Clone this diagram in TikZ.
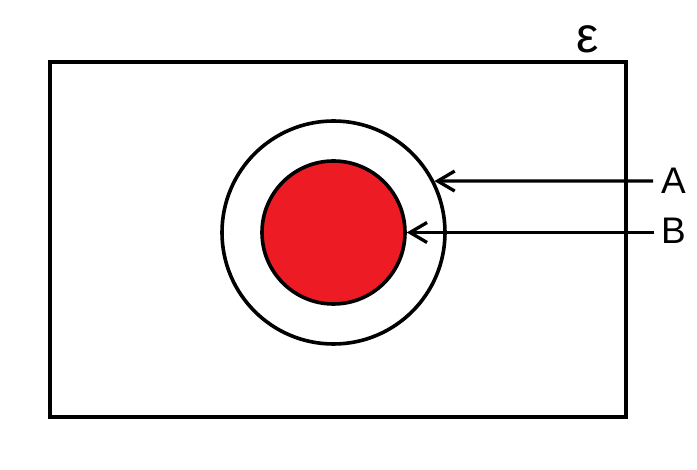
\documentclass[tikz,border=0pt]{standalone}
\usepackage{fontspec}
\setmainfont{Liberation Sans}
\usetikzlibrary{arrows.meta}
\definecolor{paintred}{HTML}{ED1C24}
\begin{document}
\begin{tikzpicture}[x=1pt,y=-1pt,
  thick3/.style={line width=3.6pt},
  ring/.style={circle,draw,thick3,inner sep=0pt},
  lbl/.style={inner sep=0pt,font=\fontsize{37}{40}\selectfont},
  arr/.style={line width=3.3pt,-{Straight Barb[length=17pt,width=20pt,line width=3.3pt]}}]
\useasboundingbox (0,0) rectangle (697,470);
\draw[thick3] (50,62) rectangle (626,417);
\node[ring,minimum size=223pt] (outer) at (333.5,232.5) {};
\node[ring,fill=paintred,minimum size=143pt] (inner) at (333.5,232.5) {};
\node[lbl] (A) at (673.5,181) {A};
\node[lbl] (B) at (673.5,231) {B};
\node[inner sep=0pt,font=\fontsize{50}{52}\selectfont] (eps) at (588,39) {ε};
\coordinate (As) at (653,181);
\coordinate (Bs) at (654,232.5);
\draw[arr] (As) -- (outer.27);
\draw[arr] (Bs) -- (inner.east);
\end{tikzpicture}
\end{document}
